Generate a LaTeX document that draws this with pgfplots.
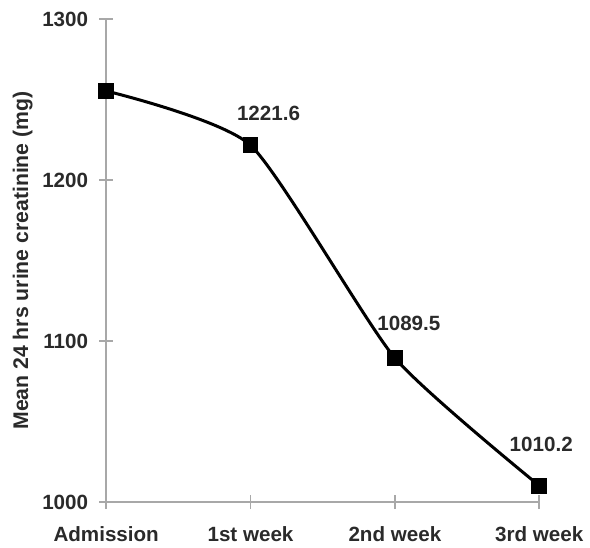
\documentclass[border=0pt]{standalone}
\usepackage{pgfplots}
\pgfplotsset{compat=1.18}
\usepackage{fontspec}
\setmainfont{Liberation Sans}
\definecolor{txt}{HTML}{2A2A2A}
\definecolor{axgray}{HTML}{A8A8A8}
\begin{document}
\begin{tikzpicture}
\begin{axis}[
    scale only axis,
    width=216.5pt, height=241.5pt,
    xmin=0, xmax=3,
    ymin=1000, ymax=1300,
    clip=false,
    axis x line*=bottom,
    axis y line*=left,
    axis line style={axgray, line width=0.8pt},
    xtick={0,1,2,3},
    xticklabels={Admission,1st week,2nd week,3rd week},
    ytick={1000,1100,1200,1300},
    major tick length=7pt,
    tick align=center,
    tick style={axgray, line width=0.8pt},
    ticklabel style={font=\fontsize{10.3}{12}\selectfont\bfseries, text=txt},
    /pgf/number format/assume math mode=true,
    /pgf/number format/1000 sep={},
    xticklabel style={yshift=-5pt},
    yticklabel style={xshift=-2pt},
    ylabel={Mean 24 hrs urine creatinine (mg)},
    ylabel style={font=\fontsize{10.6}{12}\selectfont\bfseries, text=txt, yshift=-2pt},
]
\addplot[black, line width=1.5pt, smooth, tension=0.35,
    mark=square*, mark size=3.2pt, mark options={fill=black, solid}]
  coordinates {(0,1255.3) (1,1221.6) (2,1089.5) (3,1010.2)};
\begin{scope}[every node/.style={font=\fontsize{10.3}{12}\selectfont\bfseries, text=txt, anchor=base}]
\node[xshift=9pt, yshift=12.5pt] at (axis cs:1,1221.6) {1221.6};
\node[xshift=7pt, yshift=13.5pt] at (axis cs:2,1089.5) {1089.5};
\node[xshift=1pt, yshift=17pt] at (axis cs:3,1010.2) {1010.2};
\end{scope}
\end{axis}
\path (current axis.north west) ++(0pt,9.5pt);
\path (current bounding box.west) ++(-3pt,0pt);
\end{tikzpicture}
\end{document}
